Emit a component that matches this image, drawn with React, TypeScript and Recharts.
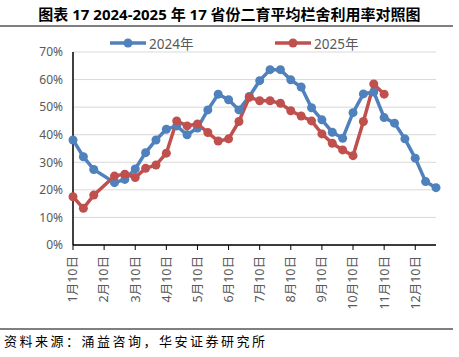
import React from "react";
import { LineChart, Line, XAxis, YAxis, CartesianGrid } from "recharts";

const dates = [
  "1月10日", "1月20日", "1月30日", "2月10日", "2月20日", "2月28日",
  "3月10日", "3月20日", "3月30日", "4月10日", "4月20日", "4月30日",
  "5月10日", "5月20日", "5月30日", "6月10日", "6月20日", "6月30日",
  "7月10日", "7月20日", "7月30日", "8月10日", "8月20日", "8月30日",
  "9月10日", "9月20日", "9月30日", "10月10日", "10月20日", "10月30日",
  "11月10日", "11月20日", "11月30日", "12月10日", "12月20日", "12月30日",
];

const y2024 = [
  38.1, 32.0, 27.4, null, 22.6, 23.8, 27.6, 33.5, 38.1, 42.0, 43.2, 40.0,
  42.4, 49.0, 54.7, 52.7, 49.0, 53.9, 59.6, 63.6, 63.6, 59.9, 57.3, 49.8,
  45.4, 40.9, 38.7, 48.0, 54.8, 55.5, 46.2, 44.2, 38.5, 31.5, 23.0, 20.8,
];

const y2025 = [
  17.5, 13.3, 18.1, null, 25.0, 25.7, 24.5, 27.8, 29.0, 33.3, 45.0, 43.2,
  43.9, 40.8, 37.7, 38.5, 44.8, 53.6, 52.3, 52.3, 51.4, 48.7, 46.8, 45.0,
  40.3, 36.9, 34.5, 32.4, 44.8, 58.4, 54.7, null, null, null, null, null,
];

const yTicks = [0, 10, 20, 30, 40, 50, 60, 70];

const BLUE = "#4F81BD";
const RED = "#C0504D";
const FONT = '"Noto Sans", "Noto Sans CJK SC", sans-serif';

const data = dates.map((d, i) => ({ date: d, a: y2024[i], b: y2025[i] }));

function DateTick({ x, y, payload }: any) {
  return (
    <g transform={`translate(${x},${y + 4})`}>
      <text
        transform="rotate(-90)"
        textAnchor="end"
        dy="0.35em"
        fontSize={12.5}
        fill="#595959"
        fontFamily={FONT}
      >
        {payload.value}
      </text>
    </g>
  );
}

function LegendItem({ color, label, left }: { color: string; label: string; left: number }) {
  return (
    <div style={{ position: "absolute", left, top: 33, display: "flex", alignItems: "center" }}>
      <svg width={36} height={18}>
        <line x1={0} y1={9} x2={36} y2={9} stroke={color} strokeWidth={3.5} />
        <circle cx={18} cy={9} r={4.5} fill={color} />
      </svg>
      <span style={{ fontSize: 13.5, color: "#595959", marginLeft: 3, fontFamily: FONT }}>{label}</span>
    </div>
  );
}

export default function App() {
  return (
    <div
      style={{
        position: "absolute", left: 0, top: 0, width: 459, height: 357,
        background: "#fff", fontFamily: FONT, overflow: "hidden",
      }}
    >
      <LineChart
        width={459}
        height={357}
        data={data}
        margin={{ top: 52, right: 23, left: 0, bottom: 42 }}
      >
        <CartesianGrid vertical={false} stroke="#d9d9d9" strokeWidth={1} />
        <XAxis
          dataKey="date"
          interval={2}
          height={70}
          axisLine={{ stroke: "#000", strokeWidth: 1.5 }}
          tickLine={{ stroke: "#000" }}
          tickSize={5}
          tick={<DateTick />}
        />
        <YAxis
          width={73}
          domain={[0, 70]}
          ticks={yTicks}
          interval={0}
          tickFormatter={(v) => `${v}%`}
          axisLine={{ stroke: "#000", strokeWidth: 1.5 }}
          tickLine={false}
          tickMargin={4}
          tick={{ fontSize: 12, fill: "#595959", fontFamily: FONT }}
        />
        <Line
          dataKey="a"
          name="2024年"
          stroke={BLUE}
          strokeWidth={3.5}
          dot={{ r: 4.5, fill: BLUE, stroke: "none" }}
          connectNulls
          isAnimationActive={false}
        />
        <Line
          dataKey="b"
          name="2025年"
          stroke={RED}
          strokeWidth={3.5}
          dot={{ r: 4.5, fill: RED, stroke: "none" }}
          connectNulls
          isAnimationActive={false}
        />
      </LineChart>

      <div
        style={{
          position: "absolute", left: 0, top: 4, width: 459, textAlign: "center",
          fontSize: 15, fontWeight: "bold", color: "#000", fontFamily: FONT, lineHeight: "20px",
        }}
      >
        图表 17 2024-2025 年 17 省份二育平均栏舍利用率对照图
      </div>
      <div style={{ position: "absolute", left: 0, top: 25, width: 453, height: 1.5, background: "#7f7f7f" }} />

      <LegendItem color={BLUE} label="2024年" left={110} />
      <LegendItem color={RED} label="2025年" left={275} />

      <div style={{ position: "absolute", left: 0, top: 328, width: 453, height: 1.5, background: "#7f7f7f" }} />
      <div
        style={{
          position: "absolute", left: 4, top: 332, fontSize: 13, letterSpacing: 2.5,
          color: "#000", fontFamily: FONT, lineHeight: "18px", whiteSpace: "nowrap",
        }}
      >
        资料来源：涌益咨询，华安证券研究所
      </div>
    </div>
  );
}
